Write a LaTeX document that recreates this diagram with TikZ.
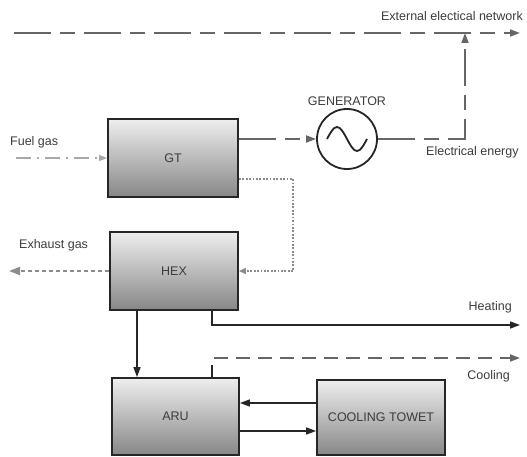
\documentclass[tikz,border=0pt]{standalone}
\usepackage{fontspec}
\setmainfont{Liberation Sans}
\usetikzlibrary{arrows.meta}
\definecolor{txt}{HTML}{3C3C3C}
\definecolor{boxtop}{HTML}{EEEEEE}
\definecolor{boxbot}{HTML}{878787}
\definecolor{edge}{HTML}{262626}
\definecolor{dashc}{HTML}{666666}
\definecolor{dotc}{HTML}{8C8C8C}
\definecolor{fuelc}{HTML}{A8A8A8}
\tikzset{
  unitbox/.style={draw=edge, line width=1.8pt, top color=boxtop, bottom color=boxbot,
    inner sep=0pt, font=\fontsize{12.5}{14}\selectfont, text=txt},
  lbl/.style={font=\fontsize{12.5}{14}\selectfont, text=txt, inner sep=0pt},
  tip/.style={-{Triangle[length=10pt,width=7pt]}},
  solidflow/.style={draw=edge, line width=1.6pt, tip},
  elec/.style={draw=dashc, line width=1.8pt, dash pattern=on 37pt off 9pt on 15pt off 9pt, tip},
  coolflow/.style={draw=dashc, line width=1.8pt, dash pattern=on 14pt off 8pt, tip},
  gasdot/.style={draw=dotc, line width=1.4pt, dash pattern=on 1.8pt off 1.6pt},
  exhflow/.style={draw=dotc, line width=1.8pt, dash pattern=on 4pt off 3pt, -{Triangle[length=11pt,width=8pt]}},
  fuelflow/.style={draw=fuelc, line width=1.3pt, dash pattern=on 15pt off 6pt on 2pt off 6pt, -{Triangle[length=8pt,width=6pt]}}
}
\begin{document}
\begin{tikzpicture}[x=1pt,y=-1pt]
\useasboundingbox (0,0) rectangle (527,457);
% boxes
\node[unitbox, minimum width=130pt, minimum height=78pt] (gt) at (173,158) {GT};
\node[unitbox, minimum width=128pt, minimum height=78pt] (hex) at (174,271) {HEX};
\node[unitbox, minimum width=127pt, minimum height=77pt] (aru) at (175.5,416.5) {ARU};
\node[unitbox, minimum width=128pt, minimum height=75pt] (ct) at (381,417.5) {COOLING TOWET};
\node[draw=edge, line width=1.8pt, circle, minimum size=60pt, inner sep=0pt, fill=white] (gen) at (347,139) {};
\draw[edge, line width=1.8pt] ([xshift=-20pt]gen.center) sin +(10,-12) cos +(10,12) sin +(10,12) cos +(10,-12);
% labels
\node[lbl, anchor=east] (netlbl) at (523,16) {External electical network};
\node[lbl] (genlbl) at (347,101) {GENERATOR};
\node[lbl, anchor=west] (fuellbl) at (10,142) {Fuel gas};
\node[lbl, anchor=west] (eelbl) at (426,152) {Electrical energy};
\node[lbl, anchor=west] (exhlbl) at (19,245) {Exhaust gas};
\node[lbl, anchor=east] (heatlbl) at (512,307) {Heating};
\node[lbl, anchor=east] (coollbl) at (510,376) {Cooling};
% coordinates
\coordinate (netL) at (14,33);
\coordinate (netR) at (520,33);
\coordinate (corner) at (465,139);
\coordinate (fuelS) at (16,158);
\coordinate (dotc1) at (293,179);
\coordinate (exhE) at (9,271);
\coordinate (heatA) at (212,325);
\coordinate (heatE) at (520,325);
\coordinate (coolV) at (212,365);
\coordinate (coolS) at (214,358);
\coordinate (coolE) at (520,358);
% connectors
\draw[elec] (netL) -- (netR);
\draw[elec] (gen.east) -- (corner) -- (corner |- netL);
\draw[elec] (gt.east |- gen.west) -- (gen.west);
\draw[fuelflow] (fuelS) -- (gt.west);
\draw[gasdot, -{Triangle[length=7pt,width=6pt]}] (dotc1 -| gt.east) -- (dotc1) -- (dotc1 |- hex.east) -- (hex.east);
\draw[exhflow] (hex.west) -- (exhE);
\draw[solidflow] (hex.south -| heatA) -- (heatA) -- (heatE);
\draw[solidflow] (hex.south -| 137,0) -- (aru.north -| 137,0);
\draw[draw=edge, line width=1.6pt] (aru.north -| coolV) -- (coolV);
\draw[coolflow] (coolS) -- (coolE);
\draw[solidflow] (ct.west |- 0,403) -- (aru.east |- 0,403);
\draw[solidflow] (aru.east |- 0,431) -- (ct.west |- 0,431);
\end{tikzpicture}
\end{document}
